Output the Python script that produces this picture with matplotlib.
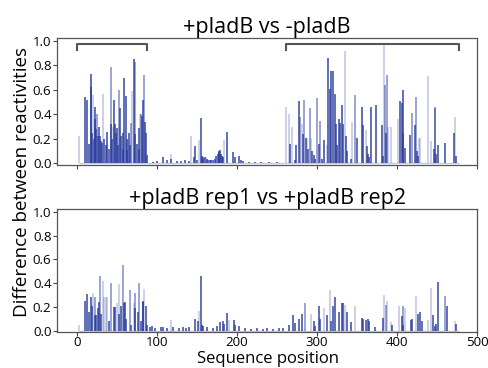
import matplotlib
matplotlib.use('Agg')
import matplotlib.pyplot as plt

plt.rcParams['font.family'] = ['Open Sans', 'DejaVu Sans']

# ---- +pladB vs -pladB ----
top_dark_pos = [10, 13, 15, 17, 18, 19, 21, 22, 23, 24, 26, 27, 29, 30, 31, 34, 36, 38, 40, 43,
                44, 46, 48, 49, 50, 51, 54, 55, 57, 58, 59, 61, 62, 63, 65, 66, 71, 73, 75, 77,
                78, 81, 83, 85, 86, 87,
                95, 100, 108, 112, 118, 125, 130, 135, 140, 146, 147, 150, 155, 156, 157, 158,
                160, 162, 164, 166, 168, 170, 172, 174, 176, 177, 178, 179, 180, 181, 182, 187,
                195, 197, 202, 205, 208, 215, 222, 230, 240, 250,
                266, 272, 274, 277, 283, 286, 289, 294, 296, 298, 302, 306, 309, 314, 316, 318,
                320, 322, 324, 325, 327, 329, 331, 333, 336, 338, 342, 350, 356, 358, 362, 364,
                365, 367, 374, 381, 382, 386, 404, 406, 407, 408, 410, 416, 423, 425, 426, 446,
                449, 451, 460, 471, 474]
top_dark_val = [0.54, 0.52, 0.16, 0.62, 0.73, 0.25, 0.20, 0.36, 0.46, 0.28, 0.22, 0.30, 0.22, 0.18, 0.17, 0.20, 0.15, 0.26, 0.12, 0.32,
                0.20, 0.52, 0.32, 0.25, 0.29, 0.15, 0.45, 0.22, 0.25, 0.12, 0.70, 0.55, 0.20, 0.11, 0.25, 0.15, 0.85, 0.24, 0.16, 0.29,
                0.12, 0.39, 0.52, 0.34, 0.25, 0.07,
                0.01, 0.02, 0.05, 0.03, 0.04, 0.02, 0.02, 0.03, 0.02, 0.05, 0.14, 0.03, 0.37, 0.06, 0.05, 0.04,
                0.05, 0.04, 0.03, 0.03, 0.03, 0.03, 0.04, 0.06, 0.08, 0.09, 0.10, 0.11, 0.08, 0.06, 0.05, 0.26,
                0.09, 0.05, 0.06, 0.03, 0.02, 0.01, 0.01, 0.01, 0.01, 0.01,
                0.16, 0.03, 0.15, 0.51, 0.24, 0.21, 0.12, 0.10, 0.07, 0.04, 0.16, 0.04, 0.19, 0.86, 0.61, 0.75,
                0.75, 0.57, 0.32, 0.15, 0.36, 0.33, 0.48, 0.32, 0.22, 0.10, 0.04, 0.21, 0.46, 0.31, 0.14, 0.08,
                0.05, 0.46, 0.48, 0.31, 0.06, 0.25, 0.51, 0.49, 0.60, 0.25, 0.13, 0.23, 0.31, 0.10, 0.06, 0.12,
                0.08, 0.15, 0.17, 0.25, 0.06]
top_mid_pos = [25, 42, 52, 67, 72, 80, 84, 279, 284, 291, 300, 304, 348, 385, 388, 419, 424, 447, 448]
top_mid_val = [0.40, 0.79, 0.60, 0.33, 0.83, 0.40, 0.72, 0.38, 0.52, 0.45, 0.53, 0.35, 0.56, 0.64, 0.72, 0.41, 0.54, 0.45, 0.46]
top_light_pos = [2, 20, 33, 37, 45, 64, 69, 79, 117, 143, 153, 161, 184, 261, 265, 269, 281, 288, 293,
                 312, 335, 344, 361, 384, 389, 393, 401, 427, 429, 439, 443, 472]
top_light_val = [0.22, 0.56, 0.57, 0.15, 0.30, 0.19, 0.59, 0.40, 0.08, 0.22, 0.19, 0.05, 0.19, 0.46, 0.40, 0.30, 0.32, 0.21, 0.21,
                 0.15, 0.92, 0.34, 0.27, 0.97, 0.30, 0.30, 0.36, 0.21, 0.21, 0.71, 0.18, 0.38]

# ---- +pladB rep1 vs +pladB rep2 ----
bot_dark_pos = [10, 13, 15, 18, 19, 22, 24, 26, 27, 30, 40, 46, 48, 52, 55, 59, 60, 61, 67, 72,
                76, 80, 82, 83, 86, 88, 91, 94, 97, 105, 108, 112, 120, 128, 132, 136, 140, 147,
                151, 155, 156, 158, 162, 170, 175, 179, 182, 184, 187, 196, 198, 202, 210, 218,
                225, 232, 238, 245, 252, 258, 265, 270, 273, 278, 281, 296, 298, 303, 304, 312,
                317, 320, 323, 327, 331, 333, 337, 343, 356, 358, 361, 364, 365, 373, 382, 394,
                406, 408, 417, 419, 426, 429, 431, 445, 447, 449, 451, 462, 474]
bot_dark_val = [0.25, 0.31, 0.16, 0.28, 0.21, 0.13, 0.13, 0.19, 0.24, 0.14, 0.08, 0.20, 0.20, 0.14, 0.21, 0.23, 0.24, 0.10, 0.05, 0.19,
                0.16, 0.08, 0.24, 0.25, 0.21, 0.05, 0.03, 0.04, 0.02, 0.035, 0.03, 0.02, 0.03, 0.02, 0.03, 0.02, 0.03, 0.10,
                0.08, 0.46, 0.05, 0.04, 0.03, 0.02, 0.04, 0.07, 0.08, 0.06, 0.15, 0.09, 0.05, 0.04, 0.02, 0.015,
                0.02, 0.015, 0.02, 0.015, 0.02, 0.02, 0.05, 0.13, 0.065, 0.10, 0.14, 0.08, 0.04, 0.21, 0.10, 0.13,
                0.08, 0.21, 0.28, 0.16, 0.23, 0.23, 0.16, 0.07, 0.11, 0.10, 0.09, 0.10, 0.08, 0.03, 0.11, 0.05,
                0.12, 0.05, 0.09, 0.10, 0.14, 0.16, 0.08, 0.13, 0.04, 0.06, 0.41, 0.21, 0.06]
bot_mid_pos = [23, 29, 42, 57, 66, 73, 78, 285, 386, 407, 460]
bot_mid_val = [0.28, 0.46, 0.40, 0.55, 0.34, 0.32, 0.40, 0.23, 0.22, 0.21, 0.29]
bot_light_pos = [2, 20, 32, 34, 36, 37, 50, 53, 71, 84, 117, 153, 190, 293, 309, 316, 335, 348, 384,
                 388, 393, 402, 410, 424, 439, 443, 472]
bot_light_val = [0.05, 0.32, 0.42, 0.28, 0.28, 0.28, 0.23, 0.39, 0.23, 0.35, 0.09, 0.17, 0.09, 0.14, 0.19, 0.34, 0.22, 0.21, 0.30,
                 0.25, 0.07, 0.21, 0.19, 0.29, 0.09, 0.36, 0.08]

# regions marked with brackets in the top panel
bracket_spans = [(0, 88), (261, 478)]

blue = '#2c3e9e'

fig = plt.figure(figsize=(4.89, 3.68), dpi=100)
ax_top = fig.add_axes([0.1166, 0.5524, 0.859, 0.3436])
ax_bot = fig.add_axes([0.1166, 0.098, 0.859, 0.333])

panels = [
    (ax_top, '+pladB vs -pladB',
     (top_dark_pos, top_dark_val), (top_mid_pos, top_mid_val), (top_light_pos, top_light_val)),
    (ax_bot, '+pladB rep1 vs +pladB rep2',
     (bot_dark_pos, bot_dark_val), (bot_mid_pos, bot_mid_val), (bot_light_pos, bot_light_val)),
]

for ax, title, dark, mid, light in panels:
    all_pos = dark[0] + mid[0] + light[0]
    ax.hlines(0, min(all_pos), max(all_pos) + 4, color='#c8cbe0', linewidth=1.0)
    ax.vlines(light[0], 0, light[1], color=blue, alpha=0.3, linewidth=1.1)
    ax.vlines(mid[0], 0, mid[1], color=blue, alpha=0.6, linewidth=1.1)
    ax.vlines(dark[0], 0, dark[1], color=blue, alpha=0.95, linewidth=1.1)
    ax.set_xlim(-25, 500)
    ax.set_ylim(-0.01, 1.02)
    ax.set_yticks([0.0, 0.2, 0.4, 0.6, 0.8, 1.0])
    ax.set_yticklabels(['0.0', '0.2', '0.4', '0.6', '0.8', '1.0'])
    ax.set_xticks([0, 100, 200, 300, 400, 500])
    ax.tick_params(labelsize=9.5, length=3, width=0.8, color='#444444', pad=1)
    ax.tick_params(axis='x', pad=0)
    ax.set_title(title, fontsize=15.5, pad=3)
    for s in ax.spines.values():
        s.set_color('#555555')
        s.set_linewidth(0.9)

ax_top.tick_params(labelbottom=False)

for start, end in bracket_spans:
    ax_top.plot([start, start, end, end], [0.925, 0.975, 0.975, 0.925],
                color='#555555', linewidth=1.5)

fig.text(0.045, 0.505, 'Difference between reactivities', rotation=90,
         ha='center', va='center', fontsize=13.5)
fig.text(0.548, 0.002, 'Sequence position', ha='center', va='bottom', fontsize=12)

fig.savefig('out.png', dpi=100)
